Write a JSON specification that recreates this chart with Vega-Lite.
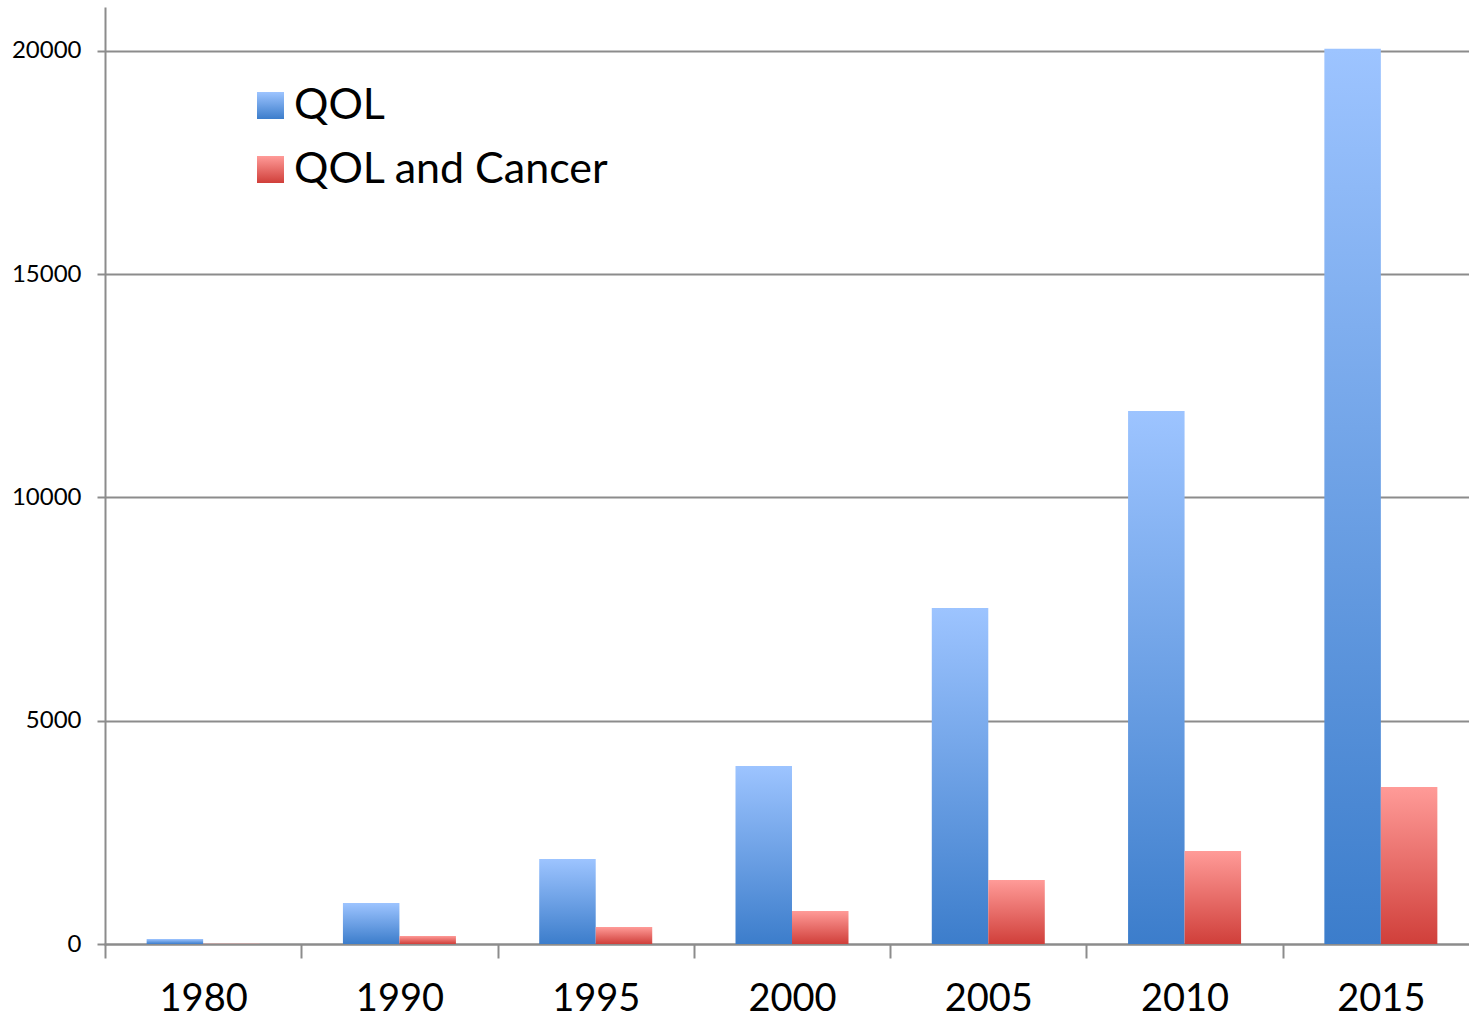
{
  "$schema": "https://vega.github.io/schema/vega-lite/v6.json",
  "width": 1364,
  "height": 936,
  "autosize": {"type": "none"},
  "padding": {"left": 105, "top": 8, "right": 0, "bottom": 74},
  "background": "white",
  "data": {
    "values": [
      {"year": "1980", "series": "QOL", "count": 110},
      {"year": "1980", "series": "QOL and Cancer", "count": 5},
      {"year": "1990", "series": "QOL", "count": 918},
      {"year": "1990", "series": "QOL and Cancer", "count": 180},
      {"year": "1995", "series": "QOL", "count": 1904},
      {"year": "1995", "series": "QOL and Cancer", "count": 380},
      {"year": "2000", "series": "QOL", "count": 3987},
      {"year": "2000", "series": "QOL and Cancer", "count": 739},
      {"year": "2005", "series": "QOL", "count": 7525},
      {"year": "2005", "series": "QOL and Cancer", "count": 1433},
      {"year": "2010", "series": "QOL", "count": 11937},
      {"year": "2010", "series": "QOL and Cancer", "count": 2083},
      {"year": "2015", "series": "QOL", "count": 20045},
      {"year": "2015", "series": "QOL and Cancer", "count": 3516}
    ]
  },
  "mark": {"type": "bar", "opacity": 1},
  "encoding": {
    "x": {
      "field": "year",
      "type": "nominal",
      "title": null,
      "scale": {"paddingInner": 0, "paddingOuter": 0, "range": [0, 1374]},
      "axis": {
        "labelAngle": 0,
        "labelFont": "Lato",
        "labelFontSize": 38,
        "labelColor": "black",
        "labelPadding": 22,
        "tickBand": "extent",
        "tickSize": 14,
        "tickWidth": 2,
        "tickColor": "#8c8c8c",
        "domainColor": "#8c8c8c",
        "domainWidth": 2,
        "grid": false
      }
    },
    "xOffset": {
      "field": "series",
      "type": "nominal",
      "sort": ["QOL", "QOL and Cancer"],
      "scale": {"paddingInner": 0, "paddingOuter": 0.737}
    },
    "y": {
      "field": "count",
      "type": "quantitative",
      "title": null,
      "scale": {"domain": [0, 20960], "nice": false, "zero": true},
      "axis": {
        "values": [0, 5000, 10000, 15000, 20000],
        "format": "d",
        "labelFont": "Lato",
        "labelFontSize": 24,
        "labelColor": "black",
        "labelPadding": 16,
        "tickSize": 8,
        "tickWidth": 2,
        "tickColor": "#8c8c8c",
        "domainColor": "#8c8c8c",
        "domainWidth": 2,
        "grid": true,
        "gridColor": "#8c8c8c",
        "gridWidth": 2
      }
    },
    "color": {
      "field": "series",
      "type": "nominal",
      "sort": ["QOL", "QOL and Cancer"],
      "scale": {
        "domain": ["QOL", "QOL and Cancer"],
        "range": [
          {"expr": "{gradient: 'linear', x1: 0, y1: 0, x2: 0, y2: 1, stops: [{offset: 0, color: '#9dc4ff'}, {offset: 1, color: '#3c7dcb'}]}"},
          {"expr": "{gradient: 'linear', x1: 0, y1: 0, x2: 0, y2: 1, stops: [{offset: 0, color: '#ff9b98'}, {offset: 1, color: '#d03f3a'}]}"}
        ]
      },
      "legend": {
        "title": null,
        "orient": "none",
        "legendX": 144,
        "legendY": 76,
        "padding": 0,
        "symbolType": "square",
        "symbolSize": 729,
        "symbolStrokeWidth": 0,
        "symbolOpacity": 1,
        "labelFont": "Lato",
        "labelFontSize": 43,
        "labelColor": "black",
        "labelOffset": 2,
        "rowPadding": 20,
        "labelLimit": 600
      }
    }
  },
  "config": {
    "view": {"stroke": null},
    "axis": {"domainCap": "square"}
  }
}
